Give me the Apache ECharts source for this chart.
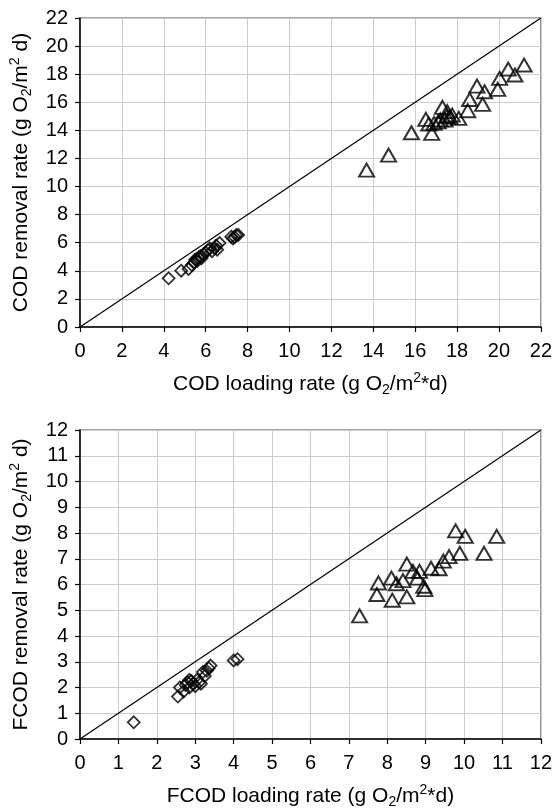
<!DOCTYPE html>
<html><head><meta charset="utf-8">
<script src="https://cdn.jsdelivr.net/npm/echarts@6/dist/echarts.min.js"></script>
<style>html,body{margin:0;padding:0;background:#fff}#c{width:555px;height:810px}</style>
</head><body><div id="c"></div>
<script>
// Top chart: COD
const codDiamonds = [[4.23,3.47],[4.83,4.01],[5.18,4.13],[5.34,4.41],[5.45,4.6],[5.5,4.8],[5.6,4.7],[5.65,4.95],[5.75,5.05],[5.8,4.9],[5.9,5.2],[6.0,5.3],[6.12,5.48],[6.2,5.6],[6.3,5.4],[6.43,5.6],[6.55,5.5],[6.66,5.98],[6.5,5.8],[7.22,6.43],[7.3,6.3],[7.38,6.4],[7.46,6.55],[7.55,6.55]];
const codTriangles = [[13.68,11.17],[14.73,12.24],[15.82,13.83],[16.51,14.78],[16.65,14.45],[16.79,13.79],[16.9,14.5],[17.1,14.6],[17.2,14.75],[17.3,15.64],[17.42,14.73],[17.5,15.0],[17.53,15.33],[17.65,14.95],[17.77,15.09],[18.08,14.85],[18.51,15.4],[18.6,16.2],[18.95,17.15],[19.22,15.85],[19.31,16.75],[19.94,16.92],[20.03,17.7],[20.44,18.36],[20.76,17.94],[21.2,18.65]];
const codLine = [[0,0],[22,22]];
// Bottom chart: FCOD
const fcodDiamonds = [[1.4,0.65],[2.55,1.65],[2.6,2.0],[2.7,1.85],[2.75,2.1],[2.8,2.2],[2.85,2.0],[2.9,2.25],[2.95,2.15],[3.0,2.05],[3.05,2.3],[3.1,2.2],[3.15,2.15],[3.25,2.45],[3.3,2.65],[3.35,2.75],[3.4,2.85],[4.0,3.05],[4.1,3.1],[2.85,2.3],[3.2,2.6]];
const fcodTriangles = [[7.28,4.78],[7.73,5.61],[7.77,6.06],[8.11,6.25],[8.13,5.39],[8.24,6.03],[8.41,6.15],[8.51,5.52],[8.51,6.79],[8.67,6.51],[8.84,6.51],[8.79,6.25],[8.95,5.93],[8.98,5.8],[9.14,6.63],[9.35,6.61],[9.46,6.91],[9.61,7.08],[9.78,8.08],[9.89,7.21],[10.03,7.87],[10.52,7.21],[10.85,7.87]];
const fcodLine = [[0,0],[12,12]];

const codXName = 'COD loading rate (g O{sub|2}/m{sup|2}*d)';
const codYName = 'COD removal rate (g O{sub|2}/m{sup|2} d)';
const fcodXName = 'FCOD loading rate (g O{sub|2}/m{sup|2}*d)';
const fcodYName = 'FCOD removal rate (g O{sub|2}/m{sup|2} d)';

const FONT = 'Liberation Sans';
const nameStyle = {
  fontSize: 21, color: '#000', fontFamily: FONT, lineHeight: 26,
  rich: {
    sub: {fontSize: 14, lineHeight: 14, verticalAlign: 'bottom', fontFamily: FONT, color: '#000'},
    sup: {fontSize: 14, lineHeight: 14, verticalAlign: 'top', fontFamily: FONT, color: '#000'}
  }
};
function xAxis(idx, max, interval, name) {
  return {
    type: 'value', gridIndex: idx, min: 0, max: max, interval: interval,
    name: name, nameLocation: 'middle', nameGap: 44, nameTextStyle: nameStyle,
    axisLine: {show: true, lineStyle: {color: '#000', width: 1.5}},
    axisTick: {show: true, length: 5, lineStyle: {color: '#000', width: 1.2}},
    axisLabel: {fontSize: 20, color: '#000', fontFamily: FONT, margin: 14},
    splitLine: {show: true, lineStyle: {color: '#ccc', width: 1}}
  };
}
function yAxis(idx, max, interval, name) {
  return {
    type: 'value', gridIndex: idx, min: 0, max: max, interval: interval,
    name: name, nameLocation: 'middle', nameGap: 46, nameTextStyle: nameStyle,
    axisLine: {show: true, lineStyle: {color: '#000', width: 1.5}},
    axisTick: {show: true, length: 5, lineStyle: {color: '#000', width: 1.2}},
    axisLabel: {fontSize: 20, color: '#000', fontFamily: FONT, margin: 12},
    splitLine: {show: true, lineStyle: {color: '#ccc', width: 1}}
  };
}
function scatter(idx, data, symbol, size, bw) {
  return {
    type: 'scatter', xAxisIndex: idx, yAxisIndex: idx, data: data,
    symbol: symbol, symbolSize: size,
    itemStyle: {color: 'rgba(0,0,0,0)', borderColor: '#000', borderWidth: bw},
    animation: false, silent: true
  };
}
function line(idx, data) {
  return {
    type: 'line', xAxisIndex: idx, yAxisIndex: idx, data: data,
    showSymbol: false, symbol: 'none',
    lineStyle: {color: '#000', width: 1.2}, animation: false, silent: true, z: 1
  };
}
const chart = echarts.init(document.getElementById('c'), null, {renderer: 'canvas'});
chart.setOption({
  backgroundColor: '#fff',
  animation: false,
  grid: [
    {left: 77, top: 18, right: 12, bottom: 483, show: true, borderColor: '#888', borderWidth: 1.5},
    {left: 77, top: 430, right: 10, bottom: 67, show: true, borderColor: '#888', borderWidth: 1.5}
  ],
  xAxis: [xAxis(0, 22, 2, codXName), xAxis(1, 12, 1, fcodXName)],
  yAxis: [yAxis(0, 22, 2, codYName), yAxis(1, 12, 1, fcodYName)],
  series: [
    line(0, codLine),
    scatter(0, codDiamonds, 'diamond', [12, 12], 1.8),
    scatter(0, codTriangles, 'triangle', [15, 13], 2),
    line(1, fcodLine),
    scatter(1, fcodDiamonds, 'diamond', [12, 12], 1.8),
    scatter(1, fcodTriangles, 'triangle', [15, 13], 2)
  ]
});
</script></body></html>
